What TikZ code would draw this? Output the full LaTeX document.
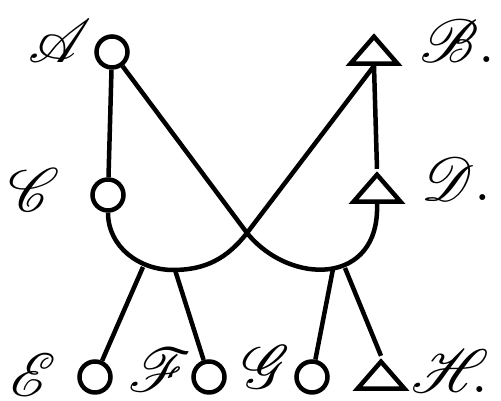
\documentclass[tikz,border=0pt]{standalone}
\usepackage{mathrsfs}
\usetikzlibrary{shapes.geometric}
\tikzset{
  ring/.style={draw,circle,inner sep=0,minimum size=6.2mm},
  tri/.style={draw,isosceles triangle,isosceles triangle stretches,
    shape border rotate=90,inner sep=0,minimum width=9.4mm,minimum height=5.4mm},
  letter/.style={font=\Huge,scale=1.4,inner sep=0}
}
\begin{document}
\begin{tikzpicture}[x=0.2mm,y=0.2mm,line width=0.9mm]
\useasboundingbox (0,0) rectangle (501,401);
% the seven points
\node[ring] (A) at (112,349) {};
\node[ring] (C) at (108,206) {};
\node[tri] (B) at (374,348) {};
\node[tri] (D) at (377,210) {};
\node[ring] (E) at (95,24) {};
\node[ring] (F) at (209,24) {};
\node[ring] (G) at (312,24) {};
\node[tri] (H) at (381,23) {};

% letters
\node[letter] (la) at (60,360) {$\mathscr{A}$};
\node[letter] (lb) at (458,360) {$\mathscr{B}.$};
\node[letter] (lc) at (34,211) {$\mathscr{C}$};
\node[letter] (ld) at (456,222) {$\mathscr{D}.$};
\node[letter] (le) at (33,26) {$\mathscr{E}$};
\node[letter] (lf) at (160,31) {$\mathscr{F}$};
\node[letter] (lg) at (266,34) {$\mathscr{G}$};
\node[letter] (lh) at (450,30) {$\mathscr{H}\mkern-5mu.$};

\coordinate (X) at (247,168);
\coordinate (lbot) at (173,131);
\coordinate (l1) at (143,134);
\coordinate (l2) at (175,131);
\coordinate (r1) at (333,132);
\coordinate (r2) at (345,133);

\draw (A) -- (C);
\draw (B.lower side) -- (D.apex);
\draw (C.south) to[out=-90,in=180] (lbot) to[out=0,in=232] (X) -- (B.lower side);
\draw (A) -- (X) .. controls (290,115) and (380,115) .. (D.lower side);
\draw (l1) -- (E);
\draw (l2) -- (F);
\draw (r1) -- (G);
\draw (r2) -- (H.apex);
\end{tikzpicture}
\end{document}
